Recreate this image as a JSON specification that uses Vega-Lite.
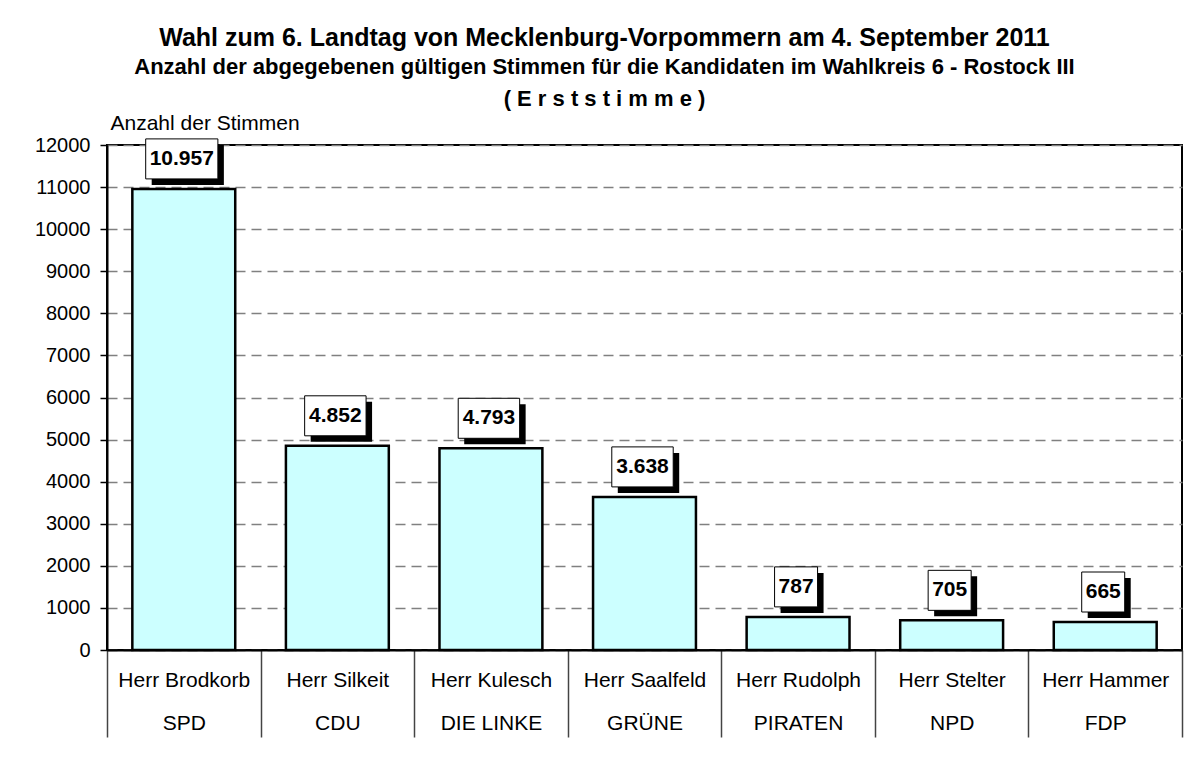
{
  "$schema": "https://vega.github.io/schema/vega-lite/v6.json",
  "autosize": {"type": "none"},
  "width": 1075,
  "height": 505,
  "padding": {"left": 107, "top": 145, "right": 14, "bottom": 108},
  "background": "white",
  "config": {
    "font": "Liberation Sans",
    "locale": {"number": {"decimal": ",", "thousands": ".", "grouping": [3], "currency": ["", " €"]}},
    "view": {"stroke": "black", "strokeWidth": 2}
  },
  "title": {
    "text": "Wahl zum 6. Landtag von Mecklenburg-Vorpommern am 4. September 2011",
    "subtitle": ["Anzahl der abgegebenen gültigen Stimmen für die Kandidaten im Wahlkreis 6 - Rostock III", "( E r s t s t i m m e )"],
    "anchor": "middle",
    "frame": "group",
    "dx": -40,
    "fontSize": 25,
    "fontWeight": "bold",
    "color": "black",
    "subtitleFontSize": 22,
    "subtitleFontWeight": "bold",
    "subtitleColor": "black",
    "subtitleLineHeight": 32,
    "subtitlePadding": 6,
    "offset": 2
  },
  "data": {
    "values": [
      {"kandidat": "Herr Brodkorb", "partei": "SPD", "stimmen": 10957},
      {"kandidat": "Herr Silkeit", "partei": "CDU", "stimmen": 4852},
      {"kandidat": "Herr Kulesch", "partei": "DIE LINKE", "stimmen": 4793},
      {"kandidat": "Herr Saalfeld", "partei": "GRÜNE", "stimmen": 3638},
      {"kandidat": "Herr Rudolph", "partei": "PIRATEN", "stimmen": 787},
      {"kandidat": "Herr Stelter", "partei": "NPD", "stimmen": 705},
      {"kandidat": "Herr Hammer", "partei": "FDP", "stimmen": 665}
    ]
  },
  "transform": [{"calculate": "datum.kandidat + '|' + datum.partei", "as": "achse"}],
  "encoding": {
    "x": {
      "field": "achse",
      "type": "nominal",
      "sort": null,
      "scale": {"paddingInner": 0, "paddingOuter": 0},
      "axis": {
        "title": null,
        "labelAngle": 0,
        "labelExpr": "datum.value ? split(datum.value, '|') : ''",
        "labelFontSize": 21,
        "labelColor": "black",
        "labelLineHeight": 43,
        "labelBaseline": "middle",
        "labelPadding": -57,
        "tickBand": "extent",
        "tickSize": 87,
        "tickColor": "#444444",
        "tickWidth": 1.5,
        "domainColor": "black",
        "domainWidth": 2,
        "grid": false
      }
    },
    "y": {
      "field": "stimmen",
      "type": "quantitative",
      "scale": {"domain": [0, 12000], "nice": false},
      "axis": {
        "values": [0, 1000, 2000, 3000, 4000, 5000, 6000, 7000, 8000, 9000, 10000, 11000, 12000],
        "format": "d",
        "title": "Anzahl der Stimmen",
        "titleAngle": 0,
        "titleAlign": "left",
        "titleBaseline": "middle",
        "titleX": 3,
        "titleY": -22,
        "titleFontSize": 21,
        "titleFontWeight": "normal",
        "titleColor": "black",
        "labelFontSize": 20,
        "labelColor": "black",
        "labelPadding": 10,
        "tickSize": 7,
        "tickColor": "black",
        "tickWidth": 1.5,
        "domainColor": "black",
        "domainWidth": 2,
        "grid": true,
        "gridColor": "#808080",
        "gridDash": [10, 6],
        "gridWidth": 1.5
      }
    }
  },
  "layer": [
    {
      "mark": {"type": "bar", "fill": "#CCFFFF", "stroke": "black", "strokeWidth": 2.5, "width": {"band": 0.67}}
    },
    {
      "transform": [{"filter": "datum.stimmen >= 10000"}],
      "layer": [
        {"mark": {"type": "bar", "fill": "black", "width": {"band": 0.47}, "xOffset": 4, "yOffset": -44, "y2Offset": -4},
         "encoding": {"y2": {"field": "stimmen"}}},
        {"mark": {"type": "bar", "fill": "white", "stroke": "black", "strokeWidth": 1, "width": {"band": 0.47}, "xOffset": -2, "yOffset": -50, "y2Offset": -10},
         "encoding": {"y2": {"field": "stimmen"}}}
      ]
    },
    {
      "transform": [{"filter": "datum.stimmen >= 1000 && datum.stimmen < 10000"}],
      "layer": [
        {"mark": {"type": "bar", "fill": "black", "width": {"band": 0.4}, "xOffset": 4, "yOffset": -44, "y2Offset": -4},
         "encoding": {"y2": {"field": "stimmen"}}},
        {"mark": {"type": "bar", "fill": "white", "stroke": "black", "strokeWidth": 1, "width": {"band": 0.4}, "xOffset": -2, "yOffset": -50, "y2Offset": -10},
         "encoding": {"y2": {"field": "stimmen"}}}
      ]
    },
    {
      "transform": [{"filter": "datum.stimmen < 1000"}],
      "layer": [
        {"mark": {"type": "bar", "fill": "black", "width": {"band": 0.28}, "xOffset": 4, "yOffset": -44, "y2Offset": -4},
         "encoding": {"y2": {"field": "stimmen"}}},
        {"mark": {"type": "bar", "fill": "white", "stroke": "black", "strokeWidth": 1, "width": {"band": 0.28}, "xOffset": -2, "yOffset": -50, "y2Offset": -10},
         "encoding": {"y2": {"field": "stimmen"}}}
      ]
    },
    {
      "mark": {"type": "text", "fontSize": 21, "fontWeight": "bold", "color": "black", "baseline": "middle", "align": "center", "dx": -2, "dy": -30},
      "encoding": {"text": {"field": "stimmen", "type": "quantitative", "format": ",d"}}
    }
  ]
}
